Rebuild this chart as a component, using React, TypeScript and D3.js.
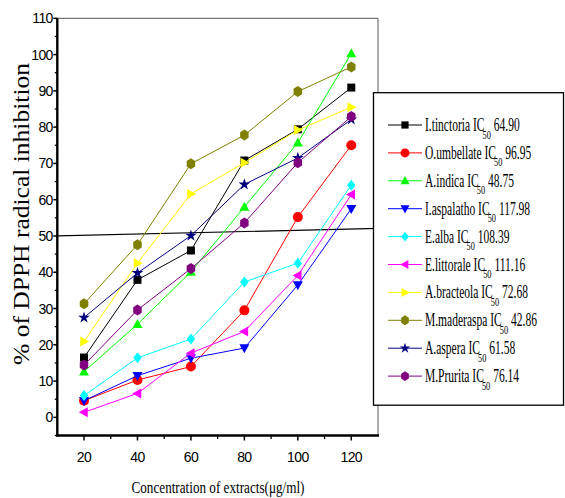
import React from "react";
import * as d3 from "d3";

const concentrations = [20, 40, 60, 80, 100, 120];
const seriesNames = [
  "I.tinctoria", "O.umbellate", "A.indica", "I.aspalatho", "E.alba",
  "E.littorale", "A.bracteola", "M.maderaspa", "A.aspera", "M.Prurita",
];
const ic50Values = ["64.90", "96.95", "48.75", "117.98", "108.39", "111.16", "72.68", "42.86", "61.58", "76.14"];
const colors = ["#000000", "#ff0000", "#00ff00", "#0000ff", "#00ffff", "#ff00ff", "#ffff00", "#808000", "#000080", "#800080"];
const markers = ["square", "circle", "triUp", "triDown", "diamond", "triLeft", "triRight", "hexagon", "star", "hexagon"];

const iTinctoria = [16.5, 37.9, 46.0, 70.8, 79.4, 90.9];
const oUmbellate = [4.6, 10.3, 14.0, 29.5, 55.2, 75.0];
const aIndica = [12.6, 25.7, 40.1, 58.0, 75.7, 100.3];
const iAspalatho = [4.6, 11.5, 16.3, 19.1, 36.5, 57.5];
const eAlba = [6.0, 16.4, 21.6, 37.3, 42.5, 64.0];
const eLittorale = [1.4, 6.6, 17.7, 23.7, 39.1, 61.4];
const aBracteola = [20.9, 42.5, 61.6, 70.2, 79.2, 85.5];
const mMaderaspa = [31.3, 47.6, 69.9, 77.8, 89.8, 96.6];
const aAspera = [27.5, 39.8, 50.1, 64.2, 71.5, 82.1];
const mPrurita = [14.4, 29.6, 41.0, 53.6, 70.2, 82.9];
const seriesValues = [iTinctoria, oUmbellate, aIndica, iAspalatho, eAlba, eLittorale, aBracteola, mMaderaspa, aAspera, mPrurita];

const xTicks = [20, 40, 60, 80, 100, 120];
const yTicks = [0, 10, 20, 30, 40, 50, 60, 70, 80, 90, 100, 110];
const refLineX = [10, 130];
const refLineY = [50, 52.1];

const xTitle = "Concentration of extracts(\u03bcg/ml)";
const yTitle = "% of DPPH radical inhibition";

function markerPath(kind: string, r: number): string {
  const p = (pts: number[][]) => "M" + pts.map((q) => q.join(",")).join("L") + "Z";
  switch (kind) {
    case "square":
      return p([[-r * 0.8, -r * 0.8], [r * 0.8, -r * 0.8], [r * 0.8, r * 0.8], [-r * 0.8, r * 0.8]]);
    case "circle":
      return `M${-r},0A${r},${r} 0 1,0 ${r},0A${r},${r} 0 1,0 ${-r},0Z`;
    case "triUp":
      return p([[0, -r * 1.05], [r, r * 0.75], [-r, r * 0.75]]);
    case "triDown":
      return p([[0, r * 1.05], [r, -r * 0.75], [-r, -r * 0.75]]);
    case "triLeft":
      return p([[-r * 1.05, 0], [r * 0.75, -r], [r * 0.75, r]]);
    case "triRight":
      return p([[r * 1.05, 0], [-r * 0.75, -r], [-r * 0.75, r]]);
    case "diamond":
      return p([[0, -r * 1.1], [r * 0.85, 0], [0, r * 1.1], [-r * 0.85, 0]]);
    case "hexagon":
      return p([[0, -r * 1.1], [r * 0.85, -r * 0.55], [r * 0.85, r * 0.55], [0, r * 1.1], [-r * 0.85, r * 0.55], [-r * 0.85, -r * 0.55]]);
    case "star": {
      const s = d3.symbol().type(d3.symbolStar).size(r * r * 1.7)();
      return s || "";
    }
    default:
      return "";
  }
}

export default function App() {
  const W = 565, H = 498;
  const left = 57.3, right = 378, top = 18.3, bottom = 435.5;
  const x = d3.scaleLinear().domain([10, 130]).range([left, right]);
  const y = d3.scaleLinear().domain([-5, 110]).range([bottom, top]);
  const line = d3.line<number>().x((_, i) => x(concentrations[i])).y((v) => y(v));

  const minorX = d3.range(30, 130, 20);
  const minorY = d3.range(-5, 110, 10);

  const legend = { x: 373.5, y: 92.7, w: 190, h: 312.5 };
  const legendRowY = (i: number) => 125 + i * 27.9;

  return (
    <svg width={W} height={H} style={{ position: "absolute", left: 0, top: 0, background: "#fff" }}>
      <rect width={W} height={H} fill="#fff" />
      <line x1={left} x2={right} y1={top} y2={top} stroke="#777" strokeWidth={1.2} />
      <line x1={right} x2={right} y1={top} y2={bottom} stroke="#777" strokeWidth={1.2} />

      <line x1={x(refLineX[0])} y1={y(refLineY[0])} x2={x(refLineX[1])} y2={y(refLineY[1])} stroke="#000" strokeWidth={1.2} />

      {seriesValues.map((vals, si) => (
        <g key={si}>
          <path d={line(vals) || ""} fill="none" stroke={colors[si]} strokeWidth={1} />
          {vals.map((v, i) => (
            <path key={i} d={markerPath(markers[si], 5)} transform={`translate(${x(concentrations[i])},${y(v)})`} fill={colors[si]} />
          ))}
        </g>
      ))}

      <line x1={left} x2={left} y1={top} y2={bottom + 1} stroke="#000" strokeWidth={2.4} />
      <line x1={left - 1} x2={right + 1} y1={bottom} y2={bottom} stroke="#000" strokeWidth={2.4} />
      {yTicks.map((t) => (
        <g key={t}>
          <line x1={left - 4} x2={left} y1={y(t)} y2={y(t)} stroke="#000" strokeWidth={1.5} />
          <text x={left - 4.5} y={y(t)} dy="0.36em" textAnchor="end" fontFamily="'Liberation Sans', Arial, sans-serif" fontSize={14} fill="#000" letterSpacing={-0.6}>{t}</text>
        </g>
      ))}
      {minorY.map((t) => (
        <line key={"my" + t} x1={left - 2.5} x2={left} y1={y(t)} y2={y(t)} stroke="#000" strokeWidth={1.3} />
      ))}
      {xTicks.map((t) => (
        <g key={t}>
          <line x1={x(t)} x2={x(t)} y1={bottom} y2={bottom + 5} stroke="#000" strokeWidth={1.5} />
          <text x={x(t)} y={462} textAnchor="middle" fontFamily="'Liberation Sans', Arial, sans-serif" fontSize={14} fill="#000" letterSpacing={-0.6}>{t}</text>
        </g>
      ))}
      {minorX.map((t) => (
        <line key={"mx" + t} x1={x(t)} x2={x(t)} y1={bottom} y2={bottom + 3.5} stroke="#000" strokeWidth={1.3} />
      ))}

      <text x={218} y={493} textAnchor="middle" fontFamily="'Liberation Serif', 'Times New Roman', serif" fontSize={17} textLength={173} lengthAdjust="spacingAndGlyphs" fill="#000">{xTitle}</text>
      <text transform="translate(29,214) rotate(-90)" textAnchor="middle" fontFamily="'Liberation Serif', 'Times New Roman', serif" fontSize={23} textLength={302} lengthAdjust="spacingAndGlyphs" fill="#000">{yTitle}</text>

      <rect x={legend.x} y={legend.y} width={legend.w} height={legend.h} fill="#fff" stroke="#000" strokeWidth={1.3} />
      {seriesNames.map((name, i) => {
        const ly = legendRowY(i);
        return (
          <g key={name}>
            <line x1={388} x2={422} y1={ly} y2={ly} stroke={colors[i]} strokeWidth={1} />
            <path d={markerPath(markers[i], 4.5)} transform={`translate(405,${ly})`} fill={colors[i]} />
            <g transform={`translate(425,${ly + 6}) scale(0.64,1)`}>
              <text x={0} y={0} fontFamily="'Liberation Serif', 'Times New Roman', serif" fontSize={18} fill="#000">
                {name + " IC"}
                <tspan dx={-3} dy={7.5} fontSize={13}>50</tspan>
                <tspan dx={0} dy={-7.5}>{" " + ic50Values[i]}</tspan>
              </text>
            </g>
          </g>
        );
      })}
    </svg>
  );
}
